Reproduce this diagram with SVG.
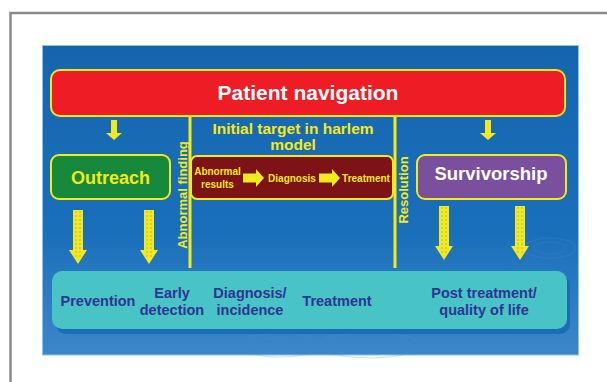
<svg xmlns="http://www.w3.org/2000/svg" width="607" height="382" viewBox="0 0 607 382">
<defs>
<linearGradient id="bg" x1="0" y1="0" x2="0" y2="1">
<stop offset="0" stop-color="#1565ae"/>
<stop offset="0.6" stop-color="#1a6fba"/>
<stop offset="1" stop-color="#3c87c9"/>
</linearGradient>
</defs>
<style>
text{font-family:"Liberation Sans",Arial,sans-serif;font-weight:bold}
.box{stroke:#f5ea14;stroke-width:2}
.yl{fill:#f5ea14}
.nv{fill:#2e3592;font-size:14.5px}
.sm{fill:#f5ea14;font-size:10px}
.vl{stroke:#f5ea14;stroke-width:3}
.arr{fill:#f2ea1c}
.dash{stroke:#b5b070;stroke-width:1;stroke-dasharray:2 2;fill:none}
</style>
<rect width="607" height="382" fill="#fff"/>
<path d="M10.5 382 V13 H607" fill="none" stroke="#8a8a8a" stroke-width="2.5"/>
<rect x="42.5" y="45.5" width="536" height="309.5" fill="url(#bg)" stroke="#8cc2ec" stroke-width="1"/>
<g fill="none" stroke="#4a8fd0" stroke-width="1.2" opacity="0.25">
<ellipse cx="550" cy="248" rx="16" ry="6"/>
<ellipse cx="550" cy="248" rx="26" ry="10"/>
<ellipse cx="280" cy="345" rx="40" ry="12"/>
<ellipse cx="280" cy="345" rx="25" ry="7"/>
<ellipse cx="370" cy="345" rx="50" ry="13"/>
</g>

<g id="connectors">
<line class="vl" x1="190" y1="116" x2="190" y2="268"/>
<line class="vl" x1="395" y1="116" x2="395" y2="268"/>
<path class="arr" d="M111 120 H117 V133 H122 L114 140 L106 133 H111 Z"/>
<path class="arr" d="M485 120 H491 V133 H496 L488 140 L480 133 H485 Z"/>
<g id="dotted-arrows">
<path class="arr" d="M73 210 H83 V250 H87 L78 264 L69 250 H73 Z"/>
<path class="dash" d="M76 211 V258 M80 211 V258"/>
<path class="arr" d="M144 210 H154 V250 H158 L149 264 L140 250 H144 Z"/>
<path class="dash" d="M147 211 V258 M151 211 V258"/>
<path class="arr" d="M439 206 H449 V246 H453 L444 260 L435 246 H439 Z"/>
<path class="dash" d="M442 207 V254 M446 207 V254"/>
<path class="arr" d="M515 206 H525 V246 H529 L520 260 L511 246 H515 Z"/>
<path class="dash" d="M518 207 V254 M522 207 V254"/>
</g>
</g>

<g id="patient-navigation">
<rect class="box" x="51" y="70" width="514" height="46" rx="9" fill="#ee1c24"/>
<text x="308" y="100" text-anchor="middle" fill="#fff" font-size="21">Patient navigation</text>
</g>

<g id="initial-target">
<text x="293" y="134" text-anchor="middle" class="yl" font-size="15.5">Initial target in harlem</text>
<text x="293" y="150" text-anchor="middle" class="yl" font-size="15.5">model</text>
</g>

<g id="abnormal-finding">
<text transform="translate(187 195) rotate(-90)" text-anchor="middle" class="yl" font-size="13">Abnormal finding</text>
</g>
<g id="resolution">
<text transform="translate(408 190) rotate(-90)" text-anchor="middle" class="yl" font-size="13">Resolution</text>
</g>

<g id="outreach">
<rect class="box" x="51" y="155" width="119" height="44" rx="8" fill="#16893d"/>
<text x="110.5" y="184" text-anchor="middle" class="yl" font-size="18">Outreach</text>
</g>

<g id="survivorship">
<rect class="box" x="417" y="155" width="149" height="44" rx="8" fill="#7a4f9e"/>
<text x="491" y="180" text-anchor="middle" fill="#fff" font-size="18.5">Survivorship</text>
</g>

<g id="harlem-model">
<rect class="box" x="191" y="156" width="202" height="43" rx="6" fill="#7d1316"/>
<text x="217.5" y="175" text-anchor="middle" class="sm">Abnormal</text>
<text x="217.5" y="188" text-anchor="middle" class="sm">results</text>
<path class="arr" d="M243 173.5 H256 V169 L264 178 L256 187 V182.5 H243 Z"/>
<text x="292" y="182" text-anchor="middle" class="sm">Diagnosis</text>
<path class="arr" d="M319 173.5 H332 V169 L340 178 L332 187 V182.5 H319 Z"/>
<text x="366" y="182" text-anchor="middle" class="sm">Treatment</text>
</g>

<g id="stages">
<rect x="56" y="275" width="514" height="59" rx="10" fill="#1d6cb8"/>
<rect x="52" y="271" width="515" height="58" rx="10" fill="#48c3c6"/>
<text x="98" y="306" text-anchor="middle" class="nv">Prevention</text>
<text x="172" y="298" text-anchor="middle" class="nv">Early</text>
<text x="172" y="315" text-anchor="middle" class="nv">detection</text>
<text x="250" y="298" text-anchor="middle" class="nv">Diagnosis/</text>
<text x="250" y="315" text-anchor="middle" class="nv">incidence</text>
<text x="337" y="306" text-anchor="middle" class="nv">Treatment</text>
<text x="484" y="298" text-anchor="middle" class="nv">Post treatment/</text>
<text x="484" y="315" text-anchor="middle" class="nv">quality of life</text>
</g>
</svg>
